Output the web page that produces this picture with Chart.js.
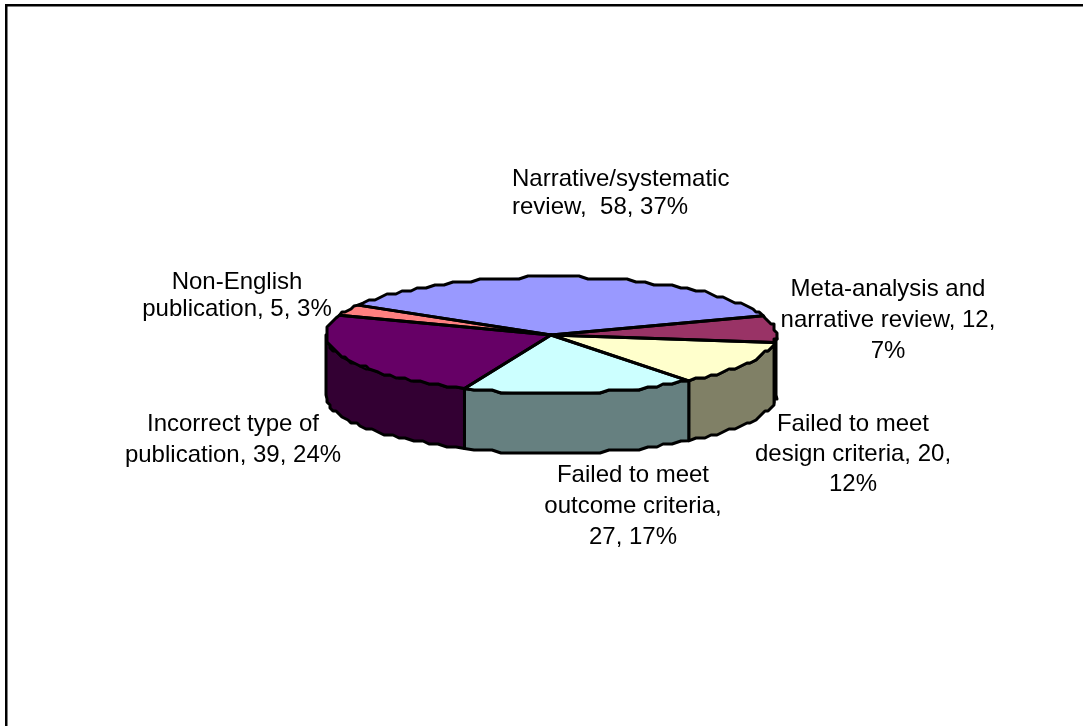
<!DOCTYPE html>
<html>
<head>
<meta charset="utf-8">
<title>Excluded publications</title>
<script src="https://cdn.jsdelivr.net/npm/chart.js@4/dist/chart.umd.min.js"></script>
<style>
    html, body { margin: 0; padding: 0; background: #fff; }
    canvas { display: block; }
</style>
</head>
<body>
<canvas id="pieChart" width="1083" height="726"></canvas>
<script>
// Data
const categories = ['Narrative/systematic review', 'Meta-analysis and narrative review', 'Failed to meet design criteria', 'Failed to meet outcome criteria', 'Incorrect type of publication', 'Non-English publication'];
const counts = [58, 12, 20, 27, 39, 5];
const labelLines = [
    ['Narrative/systematic', 'review,  58, 37%'],
    ['Meta-analysis and', 'narrative review, 12,', '7%'],
    ['Failed to meet', 'design criteria, 20,', '12%'],
    ['Failed to meet', 'outcome criteria,', '27, 17%'],
    ['Incorrect type of', 'publication, 39, 24%'],
    ['Non-English', 'publication, 5, 3%']
];

// Colours
const topColors = ['#9999ff', '#993366', '#ffffcc', '#ccffff', '#660066', '#ff8080'];
const sideColors = ['#4d4d80', '#4d1a33', '#808066', '#668080', '#330033', '#804040'];

// Label placement: x, y of the first line, line gap, text alignment
const labelPlaces = [
    [512, 179, 28, 'left'],
    [888, 289, 31, 'center'],
    [853, 424, 30, 'center'],
    [633, 475, 31, 'center'],
    [233, 424, 31, 'center'],
    [237, 282, 27, 'center']
];

const tilt = 58 / 225;
const wallDepth = 60;
const edgeGrid = 3;
const edgeStep = 0.045;

function sliceAngles(arc) {
    return arc.getProps(['x', 'y', 'startAngle', 'endAngle', 'outerRadius'], true);
}

// The rim of the original is a coarse polyline, so snap the rim points to a grid
function traceRim(ctx, p, dy, from, to) {
    const steps = Math.max(2, Math.ceil(Math.abs(to - from) / edgeStep));
    for (let s = 0; s <= steps; s++) {
        const a = from + (to - from) * s / steps;
        let x = p.x + p.outerRadius * Math.cos(a);
        let y = p.y + p.outerRadius * tilt * Math.sin(a);
        // keep the slice corners exact so the spokes meet them
        if (s > 0 && s < steps) {
            x = Math.round(x / edgeGrid) * edgeGrid;
            y = Math.round(y / edgeGrid) * edgeGrid;
        }
        ctx.lineTo(x, y + dy);
    }
}

// Pie tilt, side walls, outlines and labels
const tiltedPie = {
    id: 'tiltedPie',
    beforeDatasetsDraw(chart) {
        const ctx = chart.ctx;
        const arcs = chart.getDatasetMeta(0).data;
        ctx.save();
        ctx.lineWidth = 3;
        ctx.strokeStyle = '#000';
        ctx.lineJoin = 'round';
        arcs.forEach((arc, i) => {
            const p = sliceAngles(arc);
            [0, 2 * Math.PI].forEach(turn => {
                const from = Math.max(p.startAngle, turn);
                const to = Math.min(p.endAngle, turn + Math.PI);
                if (from >= to) return;
                ctx.beginPath();
                traceRim(ctx, p, 0, from, to);
                traceRim(ctx, p, wallDepth, to, from);
                ctx.closePath();
                ctx.fillStyle = sideColors[i];
                ctx.fill();
                ctx.stroke();
            });
        });
        ctx.restore();
    },
    beforeDatasetDraw(chart) {
        const ctx = chart.ctx;
        const p = sliceAngles(chart.getDatasetMeta(0).data[0]);
        ctx.save();
        ctx.translate(p.x, p.y);
        ctx.scale(1, tilt);
        ctx.translate(-p.x, -p.y);
    },
    afterDatasetDraw(chart) {
        chart.ctx.restore();
    },
    afterDatasetsDraw(chart) {
        const ctx = chart.ctx;
        ctx.save();
        ctx.lineWidth = 3;
        ctx.strokeStyle = '#000';
        ctx.lineJoin = 'round';
        chart.getDatasetMeta(0).data.forEach(arc => {
            const p = sliceAngles(arc);
            ctx.beginPath();
            ctx.moveTo(p.x, p.y);
            traceRim(ctx, p, 0, p.startAngle, p.endAngle);
            ctx.closePath();
            ctx.stroke();
        });
        ctx.restore();
    },
    afterDraw(chart) {
        const ctx = chart.ctx;
        ctx.save();
        // only the top and left edges of the frame are inside the picture
        ctx.fillStyle = '#000';
        ctx.fillRect(5, 4, 1078, 2.5);
        ctx.fillRect(5, 4, 2.5, 722);
        ctx.font = '24px "Liberation Sans", Arial, sans-serif';
        ctx.textBaseline = 'middle';
        labelLines.forEach((lines, i) => {
            const [x, y, gap, align] = labelPlaces[i];
            ctx.textAlign = align;
            lines.forEach((line, n) => ctx.fillText(line, x, y + n * gap));
        });
        ctx.restore();
    }
};

document.addEventListener('DOMContentLoaded', function() {
    const ctx = document.getElementById('pieChart').getContext('2d');
    new Chart(ctx, {
        type: 'pie',
        data: {
            labels: categories,
            datasets: [{
                data: counts,
                backgroundColor: topColors,
                borderWidth: 0
            }]
        },
        options: {
            responsive: false,
            animation: false,
            rotation: 301,
            radius: 225,
            layout: {
                padding: { left: 19, right: 0, top: 0, bottom: 56 }
            },
            plugins: {
                legend: { display: false },
                tooltip: { enabled: false }
            }
        },
        plugins: [tiltedPie]
    });
});
</script>
</body>
</html>
